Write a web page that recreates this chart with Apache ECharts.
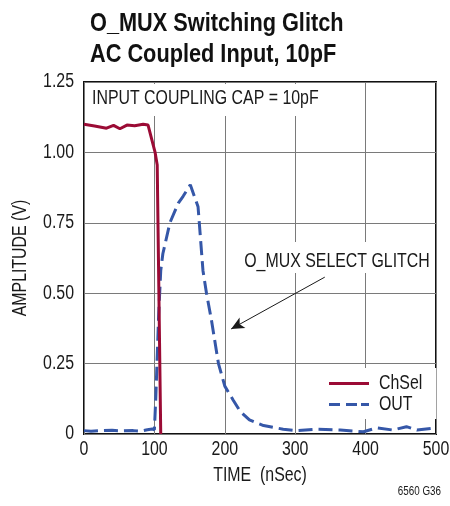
<!DOCTYPE html>
<html>
<head>
<meta charset="utf-8">
<script src="https://cdn.jsdelivr.net/npm/echarts@6/dist/echarts.min.js"></script>
<style>
html,body{margin:0;padding:0;background:#fff;}
#chart{width:450px;height:506px;}
</style>
</head>
<body>
<div id="chart"></div>
<script>
// ---- data ----
var chselTime = [0, 15, 32, 42, 51, 61, 72, 84, 91, 101, 104, 109];
var chselAmp  = [1.100, 1.094, 1.086, 1.096, 1.084, 1.097, 1.095, 1.100, 1.097, 1.000, 0.955, 0.0];

var outTime = [0, 10, 25, 40, 55, 70, 80, 90, 97, 100, 102, 106, 109, 112, 122, 134, 141, 151, 162, 169, 174, 181, 191, 200, 212, 222, 235, 255, 283, 302, 330, 364, 397, 416, 439, 458, 473, 500];
var outAmp  = [0.012, 0.010, 0.012, 0.013, 0.011, 0.012, 0.010, 0.015, 0.018, 0.015, 0.13, 0.42, 0.58, 0.64, 0.75, 0.82, 0.845, 0.885, 0.807, 0.58, 0.50, 0.405, 0.25, 0.17, 0.12, 0.08, 0.05, 0.03, 0.017, 0.012, 0.017, 0.014, 0.008, 0.022, 0.014, 0.026, 0.014, 0.022];

var xTicks = [0, 100, 200, 300, 400, 500];
var yTicks = [0, 0.25, 0.5, 0.75, 1.0, 1.25];
var arrowFrom = [342, 0.557];
var arrowTo = [209, 0.373];

var seriesNames = ['ChSel', 'OUT'];
var titleLines = ['O_MUX Switching Glitch', 'AC Coupled Input, 10pF'];

function zip(a, b) { return a.map(function (v, i) { return [v, b[i]]; }); }

// Condensed lettering (Helvetica Condensed look): draw text narrowed horizontally.
(function () {
  var P = CanvasRenderingContext2D.prototype;
  var SX = 0.82;
  var oFill = P.fillText, oStroke = P.strokeText, oMeasure = P.measureText;
  P.fillText = function (t, x, y) {
    this.save(); this.translate(x, y); this.scale(SX, 1); oFill.call(this, t, 0, 0); this.restore();
  };
  P.strokeText = function (t, x, y) {
    this.save(); this.translate(x, y); this.scale(SX, 1); oStroke.call(this, t, 0, 0); this.restore();
  };
  P.measureText = function (t) {
    var m = oMeasure.call(this, t);
    return {
      width: m.width * SX,
      actualBoundingBoxLeft: m.actualBoundingBoxLeft * SX,
      actualBoundingBoxRight: m.actualBoundingBoxRight * SX,
      actualBoundingBoxAscent: m.actualBoundingBoxAscent,
      actualBoundingBoxDescent: m.actualBoundingBoxDescent,
      fontBoundingBoxAscent: m.fontBoundingBoxAscent,
      fontBoundingBoxDescent: m.fontBoundingBoxDescent
    };
  };
})();

var FONT = '"Liberation Sans", Arial, sans-serif';
var TXT = '#1a1a1a';
var FS = 19.4;

var chart = echarts.init(document.getElementById('chart'), null, {renderer: 'canvas'});
chart.setOption({
  animation: false,
  backgroundColor: '#fff',
  title: {
    text: titleLines.join('\n'),
    left: 85, top: 3,
    textStyle: {fontFamily: FONT, fontSize: 26.5, fontWeight: 'bold', color: '#111', lineHeight: 31}
  },
  grid: {left: 84, right: 14, top: 82, bottom: 72, show: true, borderColor: '#111', borderWidth: 2,
         containLabel: false, outerBoundsMode: 'none'},
  xAxis: {
    type: 'value', min: 0, max: 500, interval: 100,
    name: 'TIME  (nSec)', nameLocation: 'middle', nameGap: 34,
    nameTextStyle: {fontFamily: FONT, fontSize: FS, color: TXT},
    axisLine: {show: false}, axisTick: {show: false},
    axisLabel: {fontFamily: FONT, fontSize: FS, color: TXT, margin: 8},
    splitLine: {show: true, lineStyle: {color: '#7a7a7a', width: 1}}
  },
  yAxis: {
    type: 'value', min: 0, max: 1.25, interval: 0.25,
    name: 'AMPLITUDE (V)', nameLocation: 'middle', nameGap: 56,
    nameTextStyle: {fontFamily: FONT, fontSize: FS, color: TXT},
    axisLine: {show: false}, axisTick: {show: false},
    axisLabel: {fontFamily: FONT, fontSize: FS, color: TXT, margin: 10,
      formatter: function (v) { return v === 0 ? '0' : v.toFixed(2); }},
    splitLine: {show: true, lineStyle: {color: '#7a7a7a', width: 1}}
  },
  legend: {
    data: [
      {name: 'ChSel', icon: 'path://M0,0H40V3H0Z'},
      {name: 'OUT', icon: 'path://M0,0H11V3H0Z M17,0H28V3H17Z M32,0H40V3H32Z'}
    ],
    orient: 'vertical', left: 320, top: 368,
    backgroundColor: '#fff',
    padding: [6, 14, 5, 9],
    itemWidth: 40, itemHeight: 3, itemGap: 2,
    textStyle: {fontFamily: FONT, fontSize: FS, color: TXT, lineHeight: 19, padding: [0, 0, 0, 5]},
    selectedMode: false
  },
  graphic: [
    {type: 'rect', z: 1, shape: {x: 86, y: 84, width: 236, height: 32}, style: {fill: '#fff'}},
    {type: 'text', z: 1, x: 92, y: 99, style: {text: 'INPUT COUPLING CAP = 10pF', font: FS + 'px ' + FONT, fill: TXT, textVerticalAlign: 'middle'}},
    {type: 'rect', z: 1, shape: {x: 242, y: 242, width: 190, height: 31}, style: {fill: '#fff'}},
    {type: 'text', z: 1, x: 337, y: 262, style: {text: 'O_MUX SELECT GLITCH', font: FS + 'px ' + FONT, fill: TXT, textAlign: 'center', textVerticalAlign: 'middle'}},
    {type: 'text', z: 1, right: 9, top: 487, style: {text: '6560 G36', font: '12px ' + FONT, fill: TXT}}
  ],
  series: [
    {
      name: 'OUT', type: 'line', data: zip(outTime, outAmp), symbol: 'none', z: 2,
      lineStyle: {color: '#3557a8', width: 3, type: [14, 6]},
      itemStyle: {color: '#3557a8'},
      markLine: {
        silent: true, animation: false,
        symbol: ['none', 'arrow'], symbolSize: [9, 13],
        label: {show: false},
        lineStyle: {color: '#1a1a1a', width: 1, type: 'solid'},
        data: [[{coord: arrowFrom}, {coord: arrowTo}]]
      }
    },
    {
      name: 'ChSel', type: 'line', data: zip(chselTime, chselAmp), symbol: 'none', z: 3,
      lineStyle: {color: '#9b0b35', width: 3},
      itemStyle: {color: '#9b0b35'}
    }
  ]
});
</script>
</body>
</html>
